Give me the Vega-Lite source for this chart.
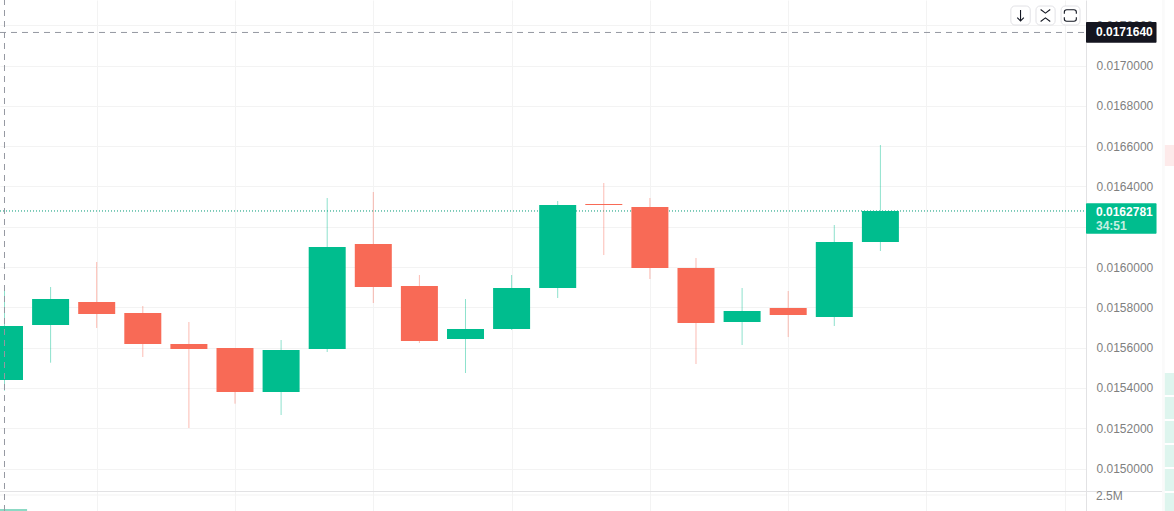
{
"$schema":"https://vega.github.io/schema/vega-lite/v6.json",
"width":1086,"height":511,
"autosize":{"type":"none"},
"padding":{"left":0,"top":0,"right":88,"bottom":0},
"background":"#ffffff",
"config":{"view":{"stroke":null},"axis":{"title":null}},
"datasets":{
"candles":[
{"i":0,"dir":"up","open":0.0154392,"high":0.0158886,"low":0.0153861,"close":0.0157072},
{"i":1,"dir":"up","open":0.0157122,"high":0.0159007,"low":0.0155251,"close":0.0158412},
{"i":2,"dir":"down","open":0.0158263,"high":0.0160248,"low":0.0156973,"close":0.0157667},
{"i":3,"dir":"down","open":0.0157717,"high":0.0158064,"low":0.0155533,"close":0.0156179},
{"i":4,"dir":"down","open":0.0156179,"high":0.015727,"low":0.015201,"close":0.015593},
{"i":5,"dir":"down","open":0.015598,"high":0.015598,"low":0.0153216,"close":0.0153796},
{"i":6,"dir":"up","open":0.0153796,"high":0.0156377,"low":0.0152655,"close":0.0155881},
{"i":7,"dir":"up","open":0.015593,"high":0.0163424,"low":0.0155782,"close":0.0160992},
{"i":8,"dir":"down","open":0.0161141,"high":0.0163722,"low":0.0158213,"close":0.0159007},
{"i":9,"dir":"down","open":0.0159057,"high":0.0159603,"low":0.0156228,"close":0.0156327},
{"i":10,"dir":"up","open":0.0156427,"high":0.0158412,"low":0.0154739,"close":0.0156923},
{"i":11,"dir":"up","open":0.0156923,"high":0.0159603,"low":0.0156873,"close":0.0158958},
{"i":12,"dir":"up","open":0.0158958,"high":0.0163275,"low":0.0158461,"close":0.0163077},
{"i":13,"dir":"down","open":0.0163127,"high":0.0164169,"low":0.0160595,"close":0.0163077},
{"i":14,"dir":"down","open":0.0162978,"high":0.0163424,"low":0.0159404,"close":0.015995},
{"i":15,"dir":"down","open":0.015995,"high":0.0160447,"low":0.0155186,"close":0.0157221},
{"i":16,"dir":"up","open":0.015727,"high":0.0158958,"low":0.0156129,"close":0.0157816},
{"i":17,"dir":"down","open":0.0157965,"high":0.0158809,"low":0.0156526,"close":0.0157618},
{"i":18,"dir":"up","open":0.0157519,"high":0.0162084,"low":0.0157072,"close":0.0161241},
{"i":19,"dir":"up","open":0.0161241,"high":0.0166055,"low":0.0160794,"close":0.0162781}
],
"profile":[
{"kind":"strip","x0":25.11,"x1":25.17,"p0":0.0147891,"p1":0.0173251},
{"kind":"sell","x0":25.17,"x1":25.47,"p0":0.0166055,"p1":0.0165013},
{"kind":"buy","x0":25.17,"x1":25.47,"p0":0.0154739,"p1":0.0153647},
{"kind":"buy","x0":25.17,"x1":25.47,"p0":0.0153548,"p1":0.0152456},
{"kind":"buy","x0":25.17,"x1":25.47,"p0":0.0152357,"p1":0.0151265},
{"kind":"buy","x0":25.17,"x1":25.47,"p0":0.0151166,"p1":0.0150074},
{"kind":"buy","x0":25.17,"x1":25.47,"p0":0.0149975,"p1":0.0148883},
{"kind":"buy","x0":25.17,"x1":25.47,"p0":0.0148784,"p1":0.0147891},
{"kind":"vol","x0":-0.0976,"x1":0.49,"p0":0.014799,"p1":0.0147891}
],
"tags":[
{"kind":"cross","x0":23.46,"x1":24.99,"p0":0.0172159,"p1":0.0171132},
{"kind":"last","x0":23.46,"x1":24.99,"p0":0.0163162,"p1":0.0161653}
],
"buttons":[
{"x0":21.83,"x1":22.25,"p0":0.0172953,"p1":0.017201},
{"x0":22.375,"x1":22.79,"p0":0.0172953,"p1":0.017201},
{"x0":22.92,"x1":23.33,"p0":0.0172953,"p1":0.017201}
]
},
"layer":[
{"data":{"name":"profile"},"mark":{"type":"rect"},
 "encoding":{
  "x":{"field":"x0","type":"quantitative","scale":{"domain":[-0.0976,23.46],"nice":false,"zero":false,"padding":0},
   "axis":{"values":[2,5,8,11,14,17,20,23],"grid":true,"gridColor":"#f3f3f3","gridWidth":1,"labels":false,"ticks":false,"domain":false,"title":null}},
  "x2":{"field":"x1"},
  "y":{"field":"p0","type":"quantitative","scale":{"domain":[0.0147891,0.0173251],"nice":false,"zero":false,"padding":0},
   "axis":{"orient":"right","values":[0.015,0.0152,0.0154,0.0156,0.0158,0.016,0.0162,0.0164,0.0166,0.0168,0.017,0.0172],"labelExpr":"abs(datum.value-0.0162)<0.000001 ? '' : format(datum.value,'.7f')","grid":true,"gridColor":"#f3f3f3","gridWidth":1,"ticks":false,"labelPadding":10,"labelColor":"#7f7f7f","labelFont":"Liberation Sans","labelFontSize":12,"domainColor":"#e2e2e4","domainWidth":1,"title":null}},
  "y2":{"field":"p1"},
  "color":{"field":"kind","type":"nominal","legend":null,"scale":{"domain":["strip","sell","buy","vol","up","down","cross","last"],"range":["#fafafa","#fdeaea","#def5ee","#8cd9c4","#00bd8e","#f86a56","#14151f","#00bd8e"]}}
 }},
{"data":{"values":[{"p":0.0148685}]},"mark":{"type":"rule","color":"#f3f3f3"},
 "encoding":{"y":{"field":"p","type":"quantitative"},"x":{"datum":-0.0976},"x2":{"datum":23.46}}},
{"data":{"values":[{"p":0.0162781}]},"mark":{"type":"rule","color":"#009a76","strokeDash":[1,2],"strokeWidth":1},
 "encoding":{"y":{"field":"p","type":"quantitative"},"x":{"datum":-0.0976},"x2":{"datum":23.46}}},
{"data":{"name":"candles"},"mark":{"type":"rule","strokeWidth":1,"opacity":0.45},
 "encoding":{
  "x":{"field":"i","type":"quantitative"},
  "y":{"field":"low","type":"quantitative"},"y2":{"field":"high"},
  "color":{"field":"dir","type":"nominal","legend":null}
 }},
{"data":{"name":"candles"},"mark":{"type":"bar","size":37},
 "encoding":{
  "x":{"field":"i","type":"quantitative"},
  "y":{"field":"open","type":"quantitative"},"y2":{"field":"close"},
  "color":{"field":"dir","type":"nominal","legend":null}
 }},
{"data":{"values":[{"p":0.014886}]},"mark":{"type":"rule","color":"#e2e2e4"},
 "encoding":{"y":{"field":"p","type":"quantitative"},"x":{"datum":-0.0976},"x2":{"datum":25.11}}},
{"data":{"values":[{"t":"2.5M","p":0.0148635}]},"mark":{"type":"text","align":"left","baseline":"middle","font":"Liberation Sans","fontSize":12,"color":"#7f7f7f"},
 "encoding":{"x":{"datum":23.677},"y":{"field":"p","type":"quantitative"},"text":{"field":"t"}}},
{"data":{"values":[{"p":0.017164}]},"mark":{"type":"rule","color":"#9598a1","strokeDash":[6,5],"strokeWidth":1},
 "encoding":{"y":{"field":"p","type":"quantitative"},"x":{"datum":-0.0976},"x2":{"datum":23.46}}},
{"data":{"values":[{"i":0}]},"mark":{"type":"rule","color":"#9598a1","strokeDash":[6,5],"strokeWidth":1},
 "encoding":{"x":{"field":"i","type":"quantitative"},"y":{"datum":0.0147891},"y2":{"datum":0.0173251}}},
{"data":{"name":"tags"},"mark":{"type":"rect","cornerRadius":1},
 "encoding":{
  "x":{"field":"x0","type":"quantitative"},"x2":{"field":"x1"},
  "y":{"field":"p0","type":"quantitative"},"y2":{"field":"p1"},
  "color":{"field":"kind","type":"nominal","legend":null}
 }},
{"data":{"values":[{"t":"0.0171640","p":0.0171648},{"t":"0.0162781","p":0.016273}]},"mark":{"type":"text","align":"left","baseline":"middle","font":"Liberation Sans","fontSize":12,"fontWeight":"bold","color":"#ffffff"},
 "encoding":{"x":{"datum":23.677},"y":{"field":"p","type":"quantitative"},"text":{"field":"t"}}},
{"data":{"values":[{"t":"34:51","p":0.0162035}]},"mark":{"type":"text","align":"left","baseline":"middle","font":"Liberation Sans","fontSize":12,"fontWeight":"bold","color":"#c4efe2"},
 "encoding":{"x":{"datum":23.677},"y":{"field":"p","type":"quantitative"},"text":{"field":"t"}}},
{"data":{"name":"buttons"},"mark":{"type":"rect","fill":"#ffffff","stroke":"#e2e2e6","strokeWidth":1,"cornerRadius":4},
 "encoding":{
  "x":{"field":"x0","type":"quantitative"},"x2":{"field":"x1"},
  "y":{"field":"p0","type":"quantitative"},"y2":{"field":"p1"}
 }},
{"data":{"values":[{"x":22.04,"p":0.0172482}]},"mark":{"type":"point","filled":false,"stroke":"#131722","strokeWidth":1.1,"opacity":1,"size":121,"shape":"M0,-1V1M-0.6,0.4L0,1L0.6,0.4"},
 "encoding":{"x":{"field":"x","type":"quantitative"},"y":{"field":"p","type":"quantitative"}}},
{"data":{"values":[{"x":22.58,"p":0.0172482}]},"mark":{"type":"point","filled":false,"stroke":"#131722","strokeWidth":1.1,"opacity":1,"size":144,"shape":"M-0.8,-1L0,-0.4L0.8,-1M-0.8,1L0,0.4L0.8,1"},
 "encoding":{"x":{"field":"x","type":"quantitative"},"y":{"field":"p","type":"quantitative"}}},
{"data":{"values":[{"x":23.12,"p":0.0172482}]},"mark":{"type":"point","filled":false,"stroke":"#131722","strokeWidth":1.1,"opacity":1,"size":144,"shape":"M-1,-0.3V-0.6Q-1,-0.95 -0.6,-0.95H0.6Q1,-0.95 1,-0.6V-0.3M-1,0.3V0.6Q-1,0.95 -0.6,0.95H0.6Q1,0.95 1,0.6V0.3"},
 "encoding":{"x":{"field":"x","type":"quantitative"},"y":{"field":"p","type":"quantitative"}}}
]
}
